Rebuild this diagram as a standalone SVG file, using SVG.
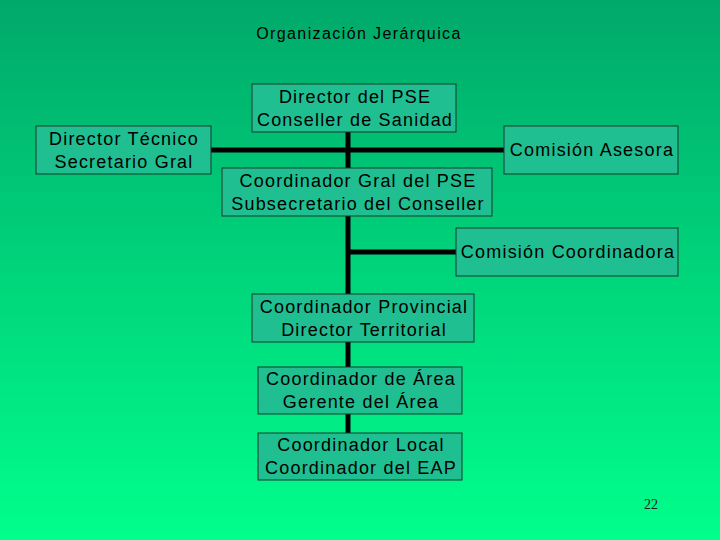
<svg xmlns="http://www.w3.org/2000/svg" width="720" height="540" viewBox="0 0 720 540">
<defs>
<linearGradient id="bg" x1="0" y1="0" x2="0" y2="1">
<stop offset="0" stop-color="#00a96a"/>
<stop offset="1" stop-color="#00ff8c"/>
</linearGradient>
<style>
.box{fill:#1fbf92;stroke:#1a3a2a;stroke-width:1}
.t{font-family:"Liberation Sans",Arial,sans-serif;font-size:18px;fill:#000;text-anchor:middle;letter-spacing:1.2px}
.ln{stroke:#000;stroke-width:5;fill:none}
</style>
</defs>
<rect width="720" height="540" fill="url(#bg)"/>
<text x="359" y="39" class="t" style="font-size:16px;letter-spacing:1.4px">Organización Jerárquica</text>
<g id="connectors">
<line class="ln" x1="211" y1="150" x2="504" y2="150"/>
<line class="ln" x1="348" y1="132" x2="348" y2="168"/>
<line class="ln" x1="348" y1="216" x2="348" y2="294"/>
<line class="ln" x1="348" y1="252" x2="456" y2="252"/>
<line class="ln" x1="348" y1="342" x2="348" y2="367"/>
<line class="ln" x1="348" y1="414" x2="348" y2="433"/>
</g>
<g id="director-pse">
<rect class="box" x="252" y="84" width="204" height="48"/>
<text class="t" x="355" y="103">Director del PSE</text>
<text class="t" x="355" y="126">Conseller de Sanidad</text>
</g>
<g id="director-tecnico">
<rect class="box" x="36" y="126" width="175" height="48"/>
<text class="t" x="124" y="145">Director Técnico</text>
<text class="t" x="124" y="168">Secretario Gral</text>
</g>
<g id="comision-asesora">
<rect class="box" x="504" y="126" width="174" height="48"/>
<text class="t" x="592" y="156">Comisión Asesora</text>
</g>
<g id="coordinador-gral">
<rect class="box" x="222" y="168" width="270" height="48"/>
<text class="t" x="358" y="187">Coordinador Gral del PSE</text>
<text class="t" x="358" y="210">Subsecretario del Conseller</text>
</g>
<g id="comision-coordinadora">
<rect class="box" x="456" y="228" width="222" height="48"/>
<text class="t" x="568" y="258">Comisión Coordinadora</text>
</g>
<g id="coordinador-provincial">
<rect class="box" x="252" y="294" width="222" height="48"/>
<text class="t" x="364" y="313">Coordinador Provincial</text>
<text class="t" x="364" y="336">Director Territorial</text>
</g>
<g id="coordinador-area">
<rect class="box" x="258" y="367" width="204" height="47"/>
<text class="t" x="361" y="385">Coordinador de Área</text>
<text class="t" x="361" y="408">Gerente del Área</text>
</g>
<g id="coordinador-local">
<rect class="box" x="258" y="433" width="204" height="47"/>
<text class="t" x="361" y="451">Coordinador Local</text>
<text class="t" x="361" y="474">Coordinador del EAP</text>
</g>
<text x="651" y="509" style="font-family:'Liberation Serif',serif;font-size:14px;fill:#222;text-anchor:middle">22</text>
</svg>
